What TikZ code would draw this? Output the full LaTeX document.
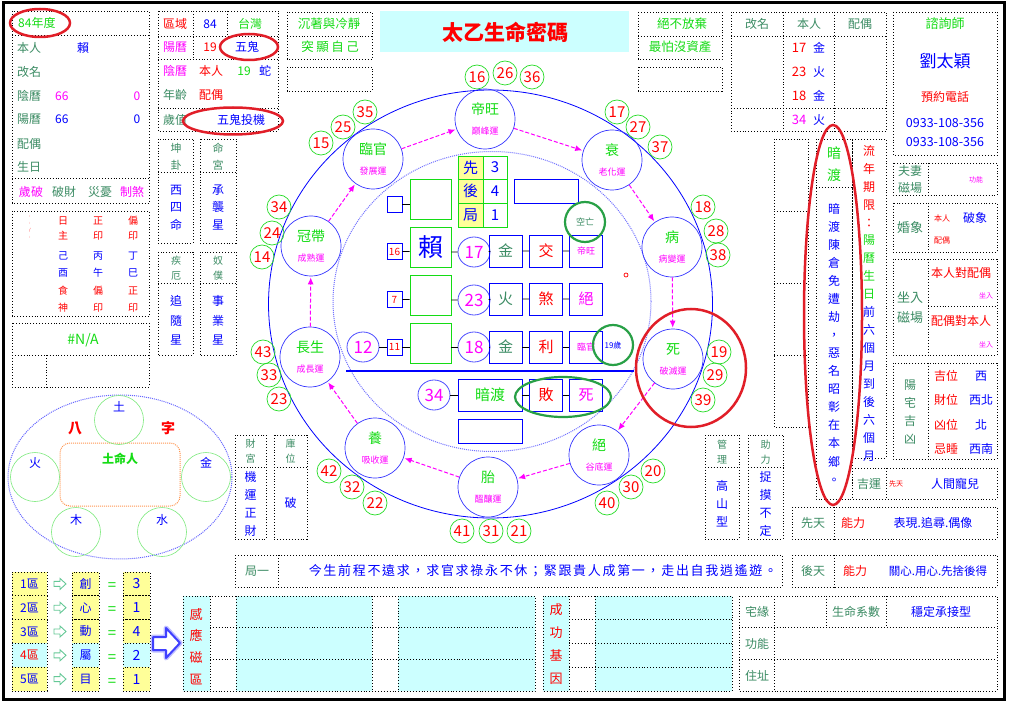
\documentclass[tikz,border=0pt]{standalone}
\usepackage{fontspec}
\setmainfont{Noto Sans CJK TC}
\usetikzlibrary{arrows.meta,shapes.geometric}
\definecolor{grn}{RGB}{20,220,20}
\definecolor{labc}{RGB}{60,140,100}
\definecolor{mag}{RGB}{255,0,255}
\definecolor{blu}{RGB}{0,0,255}
\definecolor{rd}{RGB}{255,0,0}
\definecolor{cyf}{RGB}{204,255,255}
\definecolor{yef}{RGB}{255,255,153}
\definecolor{ringg}{RGB}{40,220,40}
\definecolor{dkg}{RGB}{40,160,70}
\definecolor{ovr}{RGB}{225,30,40}
\definecolor{org}{RGB}{255,150,80}
\definecolor{arrg}{RGB}{100,200,150}
\newcommand{\stagetext}[2]{{\color{grn}#1}\\[2pt]{\fontsize{9}{9}\selectfont\color{mag}#2}}
\begin{document}
\begin{tikzpicture}[x=1pt,y=-1pt,
    dbox/.style={draw=black, dotted, line width=0.9pt},
    tx/.style={inner sep=0pt, font=\fontsize{12}{14}\selectfont},
    vt/.style args={#1/#2}{inner sep=0pt, align=center, font=\fontsize{#1}{#2}\selectfont},
    redov/.style={ellipse, draw=ovr, line width=2.5pt, inner sep=0pt},
    stage/.style={circle, draw=blu!80, line width=0.7pt, minimum size=60pt, inner sep=0pt, align=center, font=\fontsize{14}{18}\selectfont},
    numc/.style={circle, draw=ringg, line width=0.7pt, minimum size=24pt, inner sep=0pt, text=rd, font=\fontsize{15}{15}\selectfont},
    flow/.style={draw=mag, dash pattern=on 4pt off 2pt, line width=1pt, -{Latex[length=7pt,width=6pt]}, shorten >=1pt},
    bbox/.style={draw=blu, line width=0.9pt, inner sep=0pt},
    sbox/.style={bbox, minimum width=15pt, minimum height=16pt, text=rd, font=\fontsize{10}{10}\selectfont},
    gbox/.style={draw=grn, line width=0.9pt, minimum width=41pt, minimum height=40pt, inner sep=0pt},
    cbox/.style={bbox, minimum width=33pt, minimum height=32pt, font=\fontsize{15}{15}\selectfont},
    oval/.style={ellipse, draw=blu!70, line width=0.8pt, minimum width=32pt, minimum height=30pt, inner sep=0pt, text=mag, font=\fontsize{17}{17}\selectfont},
    elc/.style={circle, draw=ringg!60, line width=0.6pt, minimum size=49pt, inner sep=0pt},
    cell/.style={dbox, inner sep=0pt, minimum height=23.8pt, font=\fontsize{12}{12}\selectfont}]
\fill[white] (0,0) rectangle (1009,703);
\useasboundingbox (0,0) rectangle (1009,703);
\draw[line width=3pt] (3,3) rectangle (1004,699);

% personal data
\draw[dbox] (12,11) rectangle (149,203);
\draw[dbox] (12,35.5) -- (149,35.5) (12,178) -- (149,178);
\node[tx,text=grn,anchor=west] (nd) at (18,23) {84年度};
\node[tx,text=labc,anchor=west] (br) at (17,48) {本人};
\node[tx,text=blu] (lai) at (83,48) {賴};
\node[tx,text=labc,anchor=west] (gm) at (17,72) {改名};
\node[tx,text=labc,anchor=west] (yl) at (17,96) {陰曆};
\node[tx,text=mag,anchor=west] (yl66) at (55,96) {66};
\node[tx,text=mag] (yl0) at (137,96) {0};
\node[tx,text=labc,anchor=west] (sl) at (17,119) {陽曆};
\node[tx,text=blu,anchor=west] (sl66) at (55,119) {66};
\node[tx,text=blu] (sl0) at (137,119) {0};
\node[tx,text=labc,anchor=west] (po) at (17,144) {配偶};
\node[tx,text=labc,anchor=west] (sr) at (17,167) {生日};
\node[tx,text=mag] (sp) at (31,192) {歲破};
\node[tx,text=labc] (pc) at (64,192) {破財};
\node[tx,text=labc] (zy) at (100,192) {災憂};
\node[tx,text=mag] (zs) at (132,192) {制煞};
\node[redov, minimum width=60pt, minimum height=28pt] (ovnd) at (40,23) {};

% region / calendar
\draw[dbox] (158,11) rectangle (278,131);
\draw[dbox] (158,36) -- (278,36) (158,59) -- (278,59) (158,108) -- (278,108) (193,11) -- (193,59) (227,11) -- (227,36);
\node[tx,text=rd] (qy) at (175,24) {區域};
\node[tx,text=blu] (q84) at (210,24) {84};
\node[tx,text=grn] (tw) at (250,24) {台灣};
\node[tx,text=mag] (yang) at (175,47) {陽曆};
\node[tx,text=rd] (y19) at (210,47) {19};
\node[tx,text=blu] (wg) at (247,47) {五鬼};
\node[tx,text=mag] (yin) at (175,71) {陰曆};
\node[tx,text=rd] (yinbr) at (211,71) {本人};
\node[tx,text=grn] (yin19) at (244,71) {19};
\node[tx,text=blu] (she) at (265,71) {蛇};
\node[tx,text=labc] (nl) at (175,95) {年齡};
\node[tx,text=rd] (nlpo) at (211,95) {配偶};
\node[tx,text=labc] (sz) at (175,120) {歲值};
\node[tx,text=blu] (wgtj) at (241,120) {五鬼投機};
\node[redov, minimum width=58pt, minimum height=26pt] (ovwg) at (249,47) {};
\node[redov, minimum width=100pt, minimum height=27pt] (ovwgtj) at (233,121) {};

% palace boxes
\draw[dbox] (158,139) rectangle (193,243) (158,172) -- (193,172);
\draw[dbox] (200,139) rectangle (236,243) (200,172) -- (236,172);
\node[vt=11/17, text=labc] (kg) at (176,156.5) {坤\\卦};
\node[vt=12/17.5, text=blu] (xsm) at (176,207.5) {西\\四\\命};
\node[vt=11/17, text=labc] (mg) at (218,156.5) {命\\宮};
\node[vt=12/17.5, text=blu] (cxx) at (218,207.5) {承\\襲\\星};
\draw[dbox] (158,252) rectangle (193,355) (158,283) -- (193,283);
\draw[dbox] (200,252) rectangle (236,355) (200,283) -- (236,283);
\node[vt=10/15, text=labc] (je) at (176,268.5) {疾\\厄};
\node[vt=12/19.5, text=blu] (zsx) at (176,320.5) {追\\隨\\星};
\node[vt=10/15, text=labc] (np) at (218,268.5) {奴\\僕};
\node[vt=12/19.5, text=blu] (syx) at (218,320.5) {事\\業\\星};

% pillars
\draw[dbox] (12,211) rectangle (149,316);
\node[vt=4/7, text=rd] (tiny) at (30,227) {:\\:\\/\\:};
\foreach \x/\a/\b/\c/\d/\e/\f in {63/日/主/己/酉/食/神, 98/正/印/丙/午/偏/印, 133/偏/印/丁/巳/正/印} {
  \node[vt=10/15, text=rd] (pa\x) at (\x,228.5) {\a\\\b};
  \node[vt=10/17, text=blu] (pb\x) at (\x,264.5) {\c\\\d};
  \node[vt=10/17, text=rd] (pc\x) at (\x,299.5) {\e\\\f};
}
\draw[dbox] (12,323) rectangle (149,387) (12,355) -- (149,355) (46,355) -- (46,387);
\node[tx,text=grn,font=\fontsize{14}{14}\selectfont] (na) at (83,340) {\#N/A};

% eight characters
\draw[blu!60, densely dotted, line width=1pt] (120,477) ellipse [x radius=112, y radius=82];
\node[draw=org, densely dotted, line width=1pt, rounded corners=10pt, minimum width=120pt, minimum height=63pt] (mingren) at (120,474.5) {};
\node[elc] (tu) at (119,420) {};
\node[elc] (huo) at (35,477) {};
\node[elc] (jin) at (206,477) {};
\node[elc] (mu) at (76,532) {};
\node[elc] (shui) at (162,532) {};
\node[tx,text=blu] (tut) at (119,407) {土};
\node[tx,text=blu] (huot) at (35,463) {火};
\node[tx,text=blu] (jint) at (206,463) {金};
\node[tx,text=blu] (mut) at (76,520) {木};
\node[tx,text=blu] (shuit) at (162,520) {水};
\node[tx,text=rd,font=\fontsize{14}{14}\selectfont\bfseries] (ba) at (75,428) {八};
\node[tx,text=rd,font=\fontsize{14}{14}\selectfont\bfseries] (zi) at (168,428) {字};
\node[tx,text=grn,font=\fontsize{12}{12}\selectfont\bfseries] (tmr) at (120,459) {土命人};

% zones
\foreach \i/\q/\v/\f/\c in {1/創/3/yef/blu, 2/心/1/yef/blu, 3/動/4/yef/blu, 4/屬/2/cyf/rd, 5/目/1/yef/blu} {
  \pgfmathsetmacro\yc{583.9+23.8*(\i-1)}
  \node[cell, fill=\f, minimum width=35pt, text=\c] (qa\i) at (29.5,\yc) {\i 區};
  \node[cell, fill=\f, minimum width=27pt, text=blu] (qb\i) at (85.5,\yc) {\q};
  \node[cell, fill=\f, minimum width=27pt, text=blu, font=\fontsize{14}{14}\selectfont] (qc\i) at (136.5,\yc) {\v};
  \draw[arrg, line width=0.9pt, fill=white] (54,\yc-2.5) -- (60,\yc-2.5) -- (60,\yc-5.5) -- (66,\yc) -- (60,\yc+5.5) -- (60,\yc+2.5) -- (54,\yc+2.5) -- cycle;
  \node[tx,text=grn,font=\fontsize{15}{15}\selectfont] (qe\i) at (112,\yc+3) {=};
}
\draw[blu!25, line width=5pt, line join=round] (153,637) -- (166,637) -- (166,628) -- (180,643) -- (166,658) -- (166,650) -- (153,650) -- cycle;
\draw[blu!75, line width=2pt, fill=white, line join=round] (153,637) -- (166,637) -- (166,628) -- (180,643) -- (166,658) -- (166,650) -- (153,650) -- cycle;

% magnetic fields
\fill[cyf] (183,596) rectangle (210,691) (236,596) rectangle (372,691) (398,596) rectangle (535,691);
\draw[dbox] (183,596) rectangle (535,691);
\foreach \x in {210,236,372,398} \draw[dbox] (\x,596) -- (\x,691);
\foreach \y in {627.5,659} \draw[dbox] (210,\y) -- (535,\y);
\node[vt=13/21.7, text=rd] (gy) at (196,646.5) {感\\應\\磁\\區};
\fill[cyf] (543,596) rectangle (569,691) (595,596) rectangle (732,691);
\draw[dbox] (543,596) rectangle (732,691);
\foreach \x in {569,595} \draw[dbox] (\x,596) -- (\x,691);
\foreach \y in {619.5,643,667} \draw[dbox] (569,\y) -- (732,\y);
\node[vt=13/23, text=rd] (cg) at (556,644.5) {成\\功\\基\\因};
\draw[dbox] (739,596) rectangle (997,691);
\draw[dbox] (774,596) -- (774,691) (826,596) -- (826,627.5) (886,596) -- (886,627.5) (739,627.5) -- (997,627.5) (739,659) -- (997,659);
\node[tx,text=labc] (zhy) at (757,612) {宅緣};
\node[tx,text=labc] (smxs) at (856,612) {生命系數};
\node[tx,text=blu] (wdcj) at (941,612) {穩定承接型};
\node[tx,text=labc] (gn) at (757,644) {功能};
\node[tx,text=labc] (zz) at (757,676) {住址};

% poem and abilities
\draw[dbox] (235,555) rectangle (782,587) (278,555) -- (278,587);
\node[tx,text=labc] (ju1) at (257,571) {局一};
\node[tx,text=blu,font=\fontsize{13}{13}\selectfont\addfontfeature{LetterSpace=13}] (poem) at (543,571) {今生前程不遠求，求官求祿永不休；緊跟貴人成第一，走出自我逍遙遊。};
\draw[dbox] (792,555) rectangle (997,587) (834,555) -- (834,587);
\node[tx,text=labc] (ht) at (813,571) {後天};
\node[tx,text=rd] (htnl) at (855,571) {能力};
\node[tx,text=blu,font=\fontsize{11.5}{12}\selectfont] (htt) at (938,571) {關心.用心.先捨後得};
\draw[dbox] (792,507) rectangle (997,539) (834,507) -- (834,539);
\node[tx,text=labc] (xt) at (813,523) {先天};
\node[tx,text=rd] (xtnl) at (853,523) {能力};
\node[tx,text=blu] (xtt) at (933,523) {表現.追尋.偶像};
\draw[dbox] (852,468) rectangle (997,499) (886,468) -- (886,499);
\node[tx,text=labc] (jy) at (869,484) {吉運};
\node[tx,text=rd,font=\fontsize{7}{7}\selectfont] (jyxt) at (896,484) {先天};
\node[tx,text=blu] (rjce) at (955,484) {人間寵兒};

% lower side boxes
\foreach \xa/\xb in {235/266, 274/307, 705/739, 748/783}
  \draw[dbox] (\xa,435) rectangle (\xb,539) (\xa,467) -- (\xb,467);
\node[vt=10/15, text=labc] (cgg) at (250.5,451) {財\\宮};
\node[vt=12/18, text=blu] (jyzc) at (250.5,504) {機\\運\\正\\財};
\node[vt=10/15, text=labc] (kw) at (290.5,451) {庫\\位};
\node[tx,text=blu] (po2) at (290.5,503) {破};
\node[vt=10/15, text=labc] (gl) at (722,452) {管\\理};
\node[vt=12/18, text=blu] (gsx) at (722,504) {高\\山\\型};
\node[vt=10/15, text=labc] (zl) at (765.5,452) {助\\力};
\node[vt=12/18, text=blu] (zmbd) at (765.5,504) {捉\\摸\\不\\定};

% top boxes
\draw[dbox] (287,12) rectangle (372,59) (287,36) -- (372,36);
\draw[dbox] (287,67) rectangle (372,91);
\node[tx,text=grn,font=\fontsize{12.5}{12.5}\selectfont] (czlj) at (329,24) {沉著與冷靜};
\node[tx,text=grn,font=\fontsize{12.5}{12.5}\selectfont\addfontfeature{LetterSpace=20}] (txzj) at (330,47) {突顯自己};
\fill[cyf] (380,11) rectangle (629,52);
\node[tx,text=rd,font=\fontsize{21}{21}\selectfont\bfseries] (title) at (505,32) {太乙生命密碼};
\draw[dbox] (638,12) rectangle (722,59) (638,36) -- (722,36);
\draw[dbox] (638,67) rectangle (722,91);
\node[tx,text=grn,font=\fontsize{12.5}{12.5}\selectfont] (jbfq) at (682,24) {絕不放棄};
\node[tx,text=grn,font=\fontsize{12.5}{12.5}\selectfont] (zpmzc) at (680,47) {最怕沒資產};

% right table
\draw[dbox] (731,12) rectangle (886,131) (731,36) -- (886,36) (731,108) -- (886,108) (783,12) -- (783,131) (834,12) -- (834,131);
\node[tx,text=labc] (rgm) at (757,24) {改名};
\node[tx,text=labc] (rbr) at (809,24) {本人};
\node[tx,text=labc] (rpo) at (860,24) {配偶};
\foreach \y/\n/\e/\c in {48/17/金/rd, 72/23/火/rd, 96/18/金/rd, 120/34/火/mag} {
  \node[tx,text=\c,font=\fontsize{13}{13}\selectfont] (rn\n) at (799,\y) {\n};
  \node[tx,text=blu] (re\n) at (819,\y) {\e};
}
\draw[dbox] (893,12) rectangle (997,155);
\node[tx,text=grn,font=\fontsize{13}{13}\selectfont] (zxs) at (945,24) {諮詢師};
\node[tx,text=blu,font=\fontsize{17}{17}\selectfont] (lty) at (945,61) {劉太穎};
\node[tx,text=rd] (yydh) at (945,97) {預約電話};
\node[tx,text=blu,font=\fontsize{12.5}{12.5}\selectfont] (tel1) at (945,123) {0933-108-356};
\node[tx,text=blu,font=\fontsize{12.5}{12.5}\selectfont] (tel2) at (945,142) {0933-108-356};
\draw[dbox] (893,163) rectangle (997,195) (928,163) -- (928,195);
\node[vt=12/17, text=labc] (fqcc) at (910,179) {夫妻\\磁場};
\node[tx,text=mag,font=\fontsize{7}{7}\selectfont] (fqgn) at (976,180) {功能};
\draw[dbox] (893,203) rectangle (997,252) (928,203) -- (928,252);
\node[tx,text=labc,font=\fontsize{13}{13}\selectfont] (hx) at (910,228) {婚象};
\node[tx,text=rd,font=\fontsize{8}{8}\selectfont] (hxbr) at (942,218) {本人};
\node[tx,text=blu] (pxx) at (975,218) {破象};
\node[tx,text=rd,font=\fontsize{8}{8}\selectfont] (hxpo) at (942,240) {配偶};
\draw[dbox] (893,259) rectangle (997,355) (928,259) -- (928,355) (928,306) -- (997,306);
\node[vt=13/20, text=labc] (zrcc) at (910,308) {坐入\\磁場};
\node[tx,text=rd] (brdp) at (961,273) {本人對配偶};
\node[tx,text=mag,font=\fontsize{7}{7}\selectfont] (zr1) at (986,296) {坐入};
\node[tx,text=rd] (pdbr) at (961,321) {配偶對本人};
\node[tx,text=mag,font=\fontsize{7}{7}\selectfont] (zr2) at (986,345) {坐入};
\draw[dbox] (893,363) rectangle (997,459) (928,363) -- (928,459);
\node[vt=12/18, text=labc] (yzjx) at (910,412) {陽\\宅\\吉\\凶};
\foreach \y/\a/\b in {376/吉位/西, 400/財位/西北, 425/凶位/北, 449/忌睡/西南} {
  \node[tx,text=rd] (yz\y) at (946,\y) {\a};
  \node[tx,text=blu] (yd\y) at (981,\y) {\b};
}

% secret crossing columns
\draw[dbox] (774,139) rectangle (808,427);
\foreach \y in {211,283,355} \draw[dbox] (774,\y) -- (808,\y);
\draw[dbox] (816,139) rectangle (852,499) (816,187) -- (852,187);
\draw[dbox] (852,139) rectangle (886,458);
\node[vt=14/22, text=grn] (adh) at (834,164) {暗\\渡};
\node[vt=12/18.07, text=blu] (adtxt) at (834,343.5) {暗\\渡\\陳\\倉\\免\\遭\\劫\\，\\惡\\名\\昭\\彰\\在\\本\\鄉\\。};
\node[vt=12/18, text=rd] (lnqx) at (869,186) {流\\年\\期\\限\\：};
\node[vt=12/18, text=grn] (ylsr) at (869,267) {陽\\曆\\生\\日};
\node[vt=12/18, text=blu] (qlg) at (869,384) {前\\六\\個\\月\\到\\後\\六\\個\\月};
\node[redov, minimum width=58pt, minimum height=380pt] (ovad) at (833,315) {};

% wheel
\draw[blu, line width=0.8pt] (490.5,304) ellipse [x radius=222, y radius=214];
\draw[blu!55, densely dotted, line width=1pt] (492,301.5) ellipse [x radius=159, y radius=150];
\foreach \n/\x/\y/\a/\b in {lg/373/159/臨官/發展運, dw/485/119/帝旺/巔峰運, sh/612/160/衰/老化運, bi/672/247/病/病變運, si/673/359/死/破滅運, ju/599/455/絕/谷底運, ta/488/487/胎/醞釀運, ya/375/448/養/吸收運, cs/310/357/長生/成長運, gd/311/246/冠帶/成熟運}
  \node[stage] (\n) at (\x,\y) {\stagetext{\a}{\b}};
\foreach \s/\t in {lg/dw, dw/sh, sh/bi, bi/si, si/ju, ju/ta, ta/ya, ya/cs, cs/gd, gd/lg}
  \draw[flow] (\s) -- (\t);
\foreach \v/\x/\y in {16/477/77, 26/505/73, 36/532/77, 17/617/112, 27/638/127, 37/660/147, 18/703/207, 28/716/231, 38/718/255, 19/719/352, 29/715/375, 39/703/400, 20/653/471, 30/631/487, 40/607/503, 41/462/531, 31/491/531, 21/519/531, 42/329/471, 32/352/487, 22/375/503, 43/263/352, 33/269/375, 23/279/399, 34/279/207, 24/272/233, 14/262/257, 35/365/112, 25/343/127, 15/321/143}
  \node[numc] (k\v) at (\x,\y) {\v};
\node[redov, minimum width=110pt, minimum height=118pt] (ovsi) at (691,368) {};

% inner grid
\fill[yef] (458,156) rectangle (483,227);
\draw[grn, line width=0.9pt] (458,156) rectangle (507,227) (483,156) -- (483,227) (458,179.5) -- (507,179.5) (458,203) -- (507,203);
\foreach \y/\a/\b in {167.5/先/3, 191/後/4, 215/局/1} {
  \node[tx,text=blu,font=\fontsize{15}{15}\selectfont] (xa\b) at (470.5,\y) {\a};
  \node[tx,text=blu,font=\fontsize{15}{15}\selectfont] (xb\b) at (495,\y) {\b};
}
\node[sbox] (sa) at (394.5,204) {};
\node[gbox] (ga) at (430.5,199) {};
\draw[line width=0.8pt] (sa.east) -- (sa.east -| ga.west);
\node[bbox, minimum width=64pt, minimum height=24pt] (br1) at (546,191) {};
\node[sbox] (sb) at (394.5,251.5) {16};
\node[gbox, text=blu, font=\fontsize{25}{25}\selectfont] (gb) at (430.5,247) {賴};
\node[oval] (eb) at (474,252) {17};
\node[cbox, text=labc] (jb) at (505.5,251) {金};
\node[cbox, text=rd] (kb) at (546,251) {交};
\node[cbox, text=mag, font=\fontsize{9}{9}\selectfont] (lb) at (586,251) {帝旺};
\node[sbox] (sc) at (394.5,299.5) {7};
\node[gbox] (gc) at (430.5,295) {};
\node[oval] (ec) at (474,300) {23};
\node[cbox, text=labc] (jc) at (505.5,299) {火};
\node[cbox, text=rd] (kc) at (546,299) {煞};
\node[cbox, text=mag] (lc) at (586,299) {絕};
\node[oval] (e12) at (363,347) {12};
\node[sbox] (sd) at (394.5,347) {11};
\node[gbox] (gd2) at (430.5,343) {};
\node[oval] (ed) at (474,347) {18};
\node[cbox, text=labc] (jd) at (505.5,347) {金};
\node[cbox, text=rd] (kd) at (546,347) {利};
\node[cbox, text=mag, font=\fontsize{9}{9}\selectfont] (ld) at (586,347) {臨官};
\draw[line width=0.8pt] (sb) -- (sb -| gb.west) (eb.west -| gb.east) -- (eb) (eb) -- (jb) (jb) -- (kb) (kb) -- (lb);
\draw[line width=0.8pt] (sc) -- (sc -| gc.west) (ec.west -| gc.east) -- (ec) (ec) -- (jc) (jc) -- (kc) (kc) -- (lc);
\draw[line width=0.8pt] (e12) -- (sd) (sd) -- (sd -| gd2.west) (ed.west -| gd2.east) -- (ed) (ed) -- (jd) (jd) -- (kd) (kd) -- (ld);
\draw[blu, line width=2pt] (346,371) -- (634,371);
\node[oval] (e34) at (434,395) {34};
\node[bbox, minimum width=64pt, minimum height=32pt, text=grn, font=\fontsize{15}{15}\selectfont] (ad) at (490,395) {暗渡};
\node[cbox, text=rd] (be) at (546,395) {敗};
\node[cbox, text=mag] (de) at (586,395) {死};
\draw[line width=0.8pt] (e34) -- (ad) (ad) -- (be) (be) -- (de);
\node[bbox, minimum width=64pt, minimum height=24pt] (blank) at (490,431) {};
\node[circle, draw=dkg, line width=2.2pt, minimum size=40pt, inner sep=0pt, text=labc, font=\fontsize{9}{9}\selectfont] (kwang) at (585,222) {空亡};
\node[circle, draw=dkg, line width=2.2pt, minimum size=40pt, inner sep=0pt, text=blu, font=\fontsize{8}{8}\selectfont] (sui19) at (613,345) {19歲};
\node[ellipse, draw=dkg, line width=2.2pt, minimum width=96pt, minimum height=40pt] (baisi) at (563,397) {};
\draw[rd, line width=0.7pt] (626,275) circle [radius=2];
\end{tikzpicture}
\end{document}
